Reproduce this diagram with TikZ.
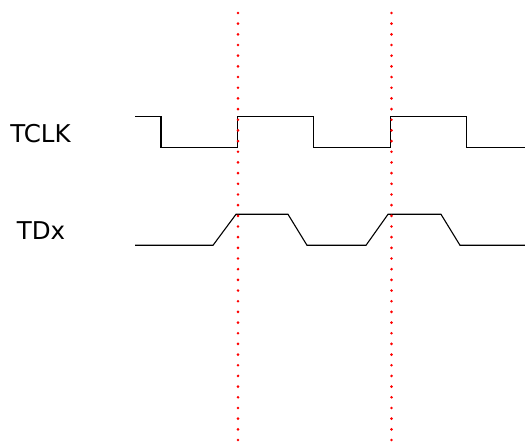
\documentclass[tikz,border=0pt]{standalone}
\usepackage{fontspec}
\setmainfont{DejaVu Sans}
\begin{document}
\begin{tikzpicture}[x=1pt,y=-1pt,
  wave/.style={draw=black,line width=1.1pt,line join=miter},
  marker/.style={draw=red,line width=2.9pt,line cap=round,dash pattern=on 0pt off 10.675pt},
  lbl/.style={font=\fontsize{24.5}{28}\selectfont,inner sep=0pt,anchor=base}]
\useasboundingbox (0,0) rectangle (525,446);
\node[lbl] (tclk) at (40.5,143) {TCLK};
\node[lbl] (tdx) at (41,240) {TDx};
% TCLK
\draw[wave] (135,116.7) -- (161,116.7) -- (161,147.7) -- (237.5,147.7) -- (237.5,116.7)
  -- (313.5,116.7) -- (313.5,147.7) -- (390.5,147.7) -- (390.5,116.7) -- (466.5,116.7)
  -- (466.5,147.7) -- (525,147.7);
% TDx
\draw[wave] (135,245.3) -- (213,245.3) -- (236,214.3) -- (288,214.3) -- (307,245.3)
  -- (366,245.3) -- (388,214.3) -- (441,214.3) -- (460,245.3) -- (525,245.3);
% markers
\coordinate (m1t) at (238,13);
\coordinate (m1b) at (238,440);
\coordinate (m2t) at (391.5,13);
\coordinate (m2b) at (391.5,440);
\draw[marker] (m1t) -- (m1b);
\draw[marker] (m2t) -- (m2b);
\end{tikzpicture}
\end{document}
